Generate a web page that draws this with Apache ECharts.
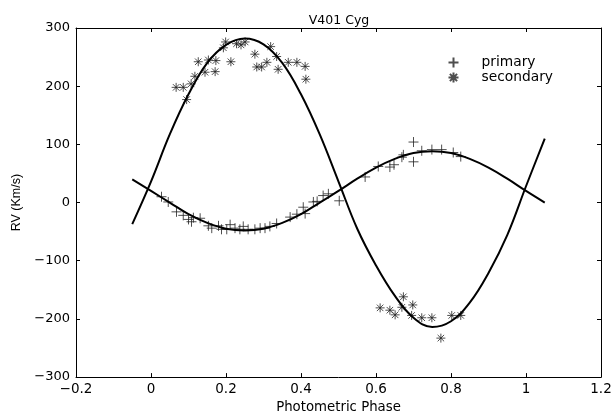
<!DOCTYPE html>
<html>
<head>
<meta charset="utf-8">
<script src="https://cdn.jsdelivr.net/npm/echarts@6/dist/echarts.min.js"></script>
<style>html,body{margin:0;padding:0;background:#fff;}#c{width:616px;height:419px;}</style>
</head>
<body>
<div id="c"></div>
<script>
// ---- data ----
const titleText = 'V401 Cyg';
const xName = 'Photometric Phase';
const yName = 'RV (Km/s)';
const seriesNames = ['primary', 'secondary'];

// fitted curves, sampled every 0.05 in phase
const fitPhase = [-0.05, 0.00, 0.05, 0.10, 0.15, 0.20, 0.25, 0.30, 0.35, 0.40, 0.45, 0.50,
                  0.55, 0.60, 0.65, 0.70, 0.75, 0.80, 0.85, 0.90, 0.95, 1.00, 1.05];
const primaryFit = [40, 20, 0, -20, -35, -45, -48, -45, -35, -20, 0, 20,
                    41, 60, 75, 85, 88, 85, 75, 60, 41, 20, 0];
const secondaryFit = [-37, 36, 117, 186, 240, 271, 282, 272, 240, 186, 117, 36,
                      -45, -108, -160, -198, -214, -204, -172, -121, -56, 28, 110];

// observed points
const primaryPhase = [0.028, 0.046, 0.068, 0.086, 0.100, 0.108, 0.113, 0.131, 0.153, 0.162,
                      0.180, 0.188, 0.202, 0.211, 0.224, 0.237, 0.246, 0.259, 0.277, 0.291,
                      0.304, 0.317, 0.335, 0.371, 0.389, 0.406, 0.411, 0.433, 0.443, 0.459,
                      0.473, 0.502, 0.571, 0.606, 0.637, 0.648, 0.669, 0.673, 0.700, 0.700,
                      0.722, 0.749, 0.775, 0.806, 0.826];
const primaryRV = [10, 1, -16, -22, -29, -33, -26, -27, -40, -44,
                   -40, -46, -46, -38, -44, -46, -41, -46, -46, -44,
                   -44, -41, -36, -25, -20, -8, -19, 1, 2, 12,
                   15, 3, 44, 62, 61, 65, 78, 82, 70, 104,
                   89, 91, 91, 86, 79];
const secondaryPhase = [0.067, 0.086, 0.095, 0.107, 0.117, 0.126, 0.144, 0.153, 0.171, 0.173,
                        0.193, 0.199, 0.213, 0.228, 0.240, 0.251, 0.277, 0.282, 0.295, 0.309,
                        0.319, 0.335, 0.339, 0.366, 0.389, 0.411, 0.413,
                        0.611, 0.637, 0.651, 0.669, 0.673, 0.695, 0.698, 0.722, 0.749, 0.773,
                        0.802, 0.826];
const secondaryRV = [198, 198, 177, 204, 217, 242, 224, 245, 225, 244,
                     266, 276, 242, 273, 271, 276, 255, 233, 233, 241,
                     268, 251, 229, 241, 241, 234, 212,
                     -181, -185, -193, -180, -162, -194, -176, -198, -198, -233,
                     -194, -194];

const xTicks = {min: -0.2, max: 1.2, interval: 0.2};
const yTicks = {min: -300, max: 300, interval: 100};

// ---- chart ----
const FONT = 'DejaVu Sans';
const fmt = v => String(Number(v.toFixed(1))).replace('-', '\u2212');
const plusPath = 'path://M0,-1L0,1M-1,0L1,0';
const starPath = 'path://M0,-1L0,1M-1,0L1,0M-0.72,-0.72L0.72,0.72M-0.72,0.72L0.72,-0.72';

function xAx(pos, show) {
  return {
    type: 'value', position: pos, min: xTicks.min, max: xTicks.max, interval: xTicks.interval,
    axisLine: {show: true, onZero: false, lineStyle: {color: '#000', width: 1}},
    axisTick: {show: true, inside: true, length: 4, lineStyle: {color: '#000'}},
    splitLine: {show: false},
    axisLabel: {show: show, color: '#000', fontFamily: FONT, fontSize: 13.5, margin: 5, formatter: fmt},
    name: show ? xName : '', nameLocation: 'middle', nameGap: 20,
    nameTextStyle: {color: '#000', fontFamily: FONT, fontSize: 13.3}
  };
}
function yAx(pos, show) {
  return {
    type: 'value', position: pos, min: yTicks.min, max: yTicks.max, interval: yTicks.interval,
    axisLine: {show: true, onZero: false, lineStyle: {color: '#000', width: 1}},
    axisTick: {show: true, inside: true, length: 4, lineStyle: {color: '#000'}},
    splitLine: {show: false},
    axisLabel: {show: show, color: '#000', fontFamily: FONT, fontSize: 13, margin: 6, formatter: fmt},
    name: show ? yName : '', nameLocation: 'middle', nameGap: 50, nameRotate: 90,
    nameTextStyle: {color: '#000', fontFamily: 'Liberation Sans', fontSize: 12.5}
  };
}

const chart = echarts.init(document.getElementById('c'), null, {renderer: 'canvas'});
chart.setOption({
  animation: false,
  backgroundColor: '#fff',
  title: {text: titleText, left: 334, textAlign: 'center', top: 9,
          textStyle: {color: '#000', fontFamily: FONT, fontSize: 12.5, fontWeight: 'normal'}},
  grid: {left: 76, right: 15, top: 28, bottom: 36, containLabel: false},
  legend: {
    orient: 'vertical', left: 441, top: 50, itemWidth: 10, itemHeight: 10, itemGap: 0,
    textStyle: {color: '#000', fontFamily: FONT, fontSize: 13.8, padding: [0, 0, 0, 18]},
    data: [{name: seriesNames[0], icon: plusPath}, {name: seriesNames[1], icon: starPath}]
  },
  xAxis: [xAx('bottom', true), xAx('top', false)],
  yAxis: [yAx('left', true), yAx('right', false)],
  series: [
    {name: seriesNames[0], type: 'scatter', symbol: plusPath, symbolSize: 10,
     itemStyle: {color: 'none', borderColor: '#222', borderWidth: 1},
     data: primaryPhase.map((p, i) => [p, primaryRV[i]]), z: 3},
    {name: seriesNames[1], type: 'scatter', symbol: starPath, symbolSize: 9,
     itemStyle: {color: 'none', borderColor: '#222', borderWidth: 1},
     data: secondaryPhase.map((p, i) => [p, secondaryRV[i]]), z: 3},
    {name: 'primaryFit', type: 'line', smooth: 0.4, showSymbol: false, symbol: 'none',
     lineStyle: {color: '#000', width: 2}, data: fitPhase.map((p, i) => [p, primaryFit[i]]), z: 4},
    {name: 'secondaryFit', type: 'line', smooth: 0.4, showSymbol: false, symbol: 'none',
     lineStyle: {color: '#000', width: 2}, data: fitPhase.map((p, i) => [p, secondaryFit[i]]), z: 4}
  ]
});
</script>
</body>
</html>
